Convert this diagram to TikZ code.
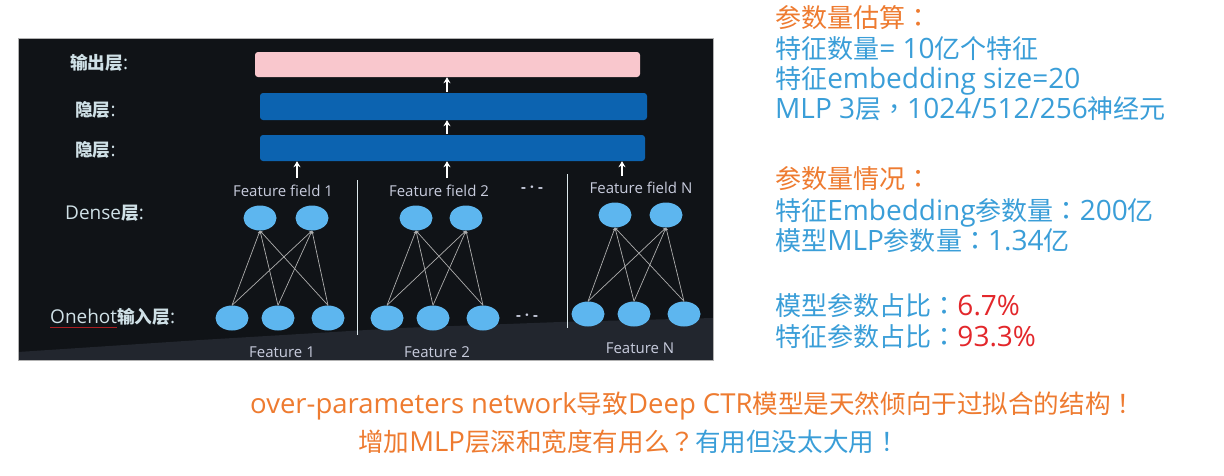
\documentclass[tikz,border=0pt]{standalone}
\usepackage{fontspec}
\setmainfont{Open Sans}
\newfontfamily\zh[Scale=0.93]{Noto Sans CJK SC}
\newfontfamily\zp[Scale=0.93]{Noto Sans CJK TC}
\usetikzlibrary{shapes.geometric,arrows.meta}
\definecolor{panel}{HTML}{101317}
\definecolor{floorc}{HTML}{22262E}
\definecolor{pinkbar}{HTML}{F9C7CD}
\definecolor{bluebar}{HTML}{0C63B0}
\definecolor{dot}{HTML}{5DB6EF}
\definecolor{lbl}{HTML}{CFE0E6}
\definecolor{fflc}{HTML}{C8CCDD}
\definecolor{orng}{HTML}{EE7B30}
\definecolor{txtblue}{HTML}{3A9ED8}
\definecolor{myred}{HTML}{E3272B}
\definecolor{edgec}{HTML}{AEAEAE}
\tikzset{
  bar/.style={rectangle, rounded corners=3pt, inner sep=0pt},
  layerlbl/.style={text=lbl, font=\fontsize{19}{22}\selectfont, anchor=west, inner sep=0pt, text height=17.4pt, text depth=4pt},
  fflbl/.style={text=fflc, font=\fontsize{15}{17}\selectfont, inner sep=0pt},
  neuron/.style={ellipse, fill=dot, minimum width=33pt, minimum height=25pt, inner sep=0pt},
  uparr/.style={draw=white, line width=1.7pt, -{Stealth[length=6pt,width=7pt]}},
  edge/.style={draw=edgec, line width=0.7pt, -{Stealth[length=3pt,width=3pt]}},
  sep/.style={draw=lbl!70, line width=0.6pt},
  rtxt/.style={anchor=west, inner sep=0pt, text height=26pt, text depth=6pt, font=\fontsize{28}{30}\selectfont},
  btxt/.style={anchor=west, inner sep=0pt, text height=25.4pt, text depth=6pt, font=\fontsize{27.5}{30}\selectfont},
}
\begin{document}
\begin{tikzpicture}[x=1pt,y=-1pt]
\useasboundingbox[fill=white] (0,0) rectangle (1224,475);
% panel
\fill[panel] (18,38) rectangle (713,360);
\fill[floorc] (18,360) -- (18,352) -- (200,340) -- (400,328) -- (560,322) -- (713,318) -- (713,360) -- cycle;
\draw[gray!60, line width=0.6pt] (18,38) rectangle (713,360);
% bars
\node[bar, fill=pinkbar, minimum width=385pt, minimum height=25pt] (out) at (447.5,64.5) {};
\node[bar, fill=bluebar, minimum width=387pt, minimum height=27pt] (hid1) at (453.5,106.5) {};
\node[bar, fill=bluebar, minimum width=385pt, minimum height=26pt] (hid2) at (452.5,148) {};
% layer labels
\node[layerlbl] (lout) at (70,63) {{\zh\bfseries 输出层}:};
\node[layerlbl] (lh1) at (75,110) {{\zh\bfseries 隐层}:};
\node[layerlbl] (lh2) at (75,150) {{\zh\bfseries 隐层}:};
\node[layerlbl] (ldense) at (65,213) {Dense{\zh\bfseries 层}:};
\node[layerlbl] (lone) at (50,317) {Onehot{\zh\bfseries 输入层}:};
\draw[myred!75!black, line width=0.9pt] (50,327) -- (117,327);
% arrows between bars
\coordinate (m1) at (447,92);
\coordinate (m2) at (447,134);
\draw[uparr] (m1) -- (m1 |- out.south);
\draw[uparr] (m2) -- (m2 |- hid1.south);
% feature field labels
\node[fflbl] (ff1) at (283,191) {Feature field 1};
\node[fflbl] (ff2) at (439,191) {Feature field 2};
\node[fflbl] (ffN) at (641,188) {Feature field N};
\node[fflbl, font=\fontsize{15}{17}\selectfont\bfseries] (dots1) at (532,189) {- · -};
\node[fflbl, font=\fontsize{15}{17}\selectfont\bfseries] (dots2) at (527,317) {- · -};
\coordinate (a1) at (297,178);
\coordinate (a2) at (447,178);
\coordinate (a3) at (622,176);
\draw[uparr] (a1) -- (a1 |- hid2.south);
\draw[uparr] (a2) -- (a2 |- hid2.south);
\draw[uparr] (a3) -- (a3 |- hid2.south);
% separators
\coordinate (s1t) at (357,180); \coordinate (s1b) at (357,335);
\coordinate (s2t) at (567,174); \coordinate (s2b) at (567,328);
\draw[sep] (s1t) -- (s1b);
\draw[sep] (s2t) -- (s2b);
% neurons
\node[neuron] (d11) at (260,218) {};
\node[neuron] (d12) at (312,218) {};
\node[neuron] (d21) at (416,218) {};
\node[neuron] (d22) at (466,218) {};
\node[neuron] (dN1) at (615,215) {};
\node[neuron] (dN2) at (666,215) {};
\node[neuron] (o11) at (232,318) {};
\node[neuron] (o12) at (278,318) {};
\node[neuron] (o13) at (328,318) {};
\node[neuron] (o21) at (387,318) {};
\node[neuron] (o22) at (433,318) {};
\node[neuron] (o23) at (483,318) {};
\node[neuron] (oN1) at (588,314) {};
\node[neuron] (oN2) at (634,314) {};
\node[neuron] (oN3) at (684,314) {};
\foreach \g in {1,2,N}{
  \foreach \i in {1,2,3}{
    \foreach \j in {1,2}{
      \draw[edge] (o\g\i.north) -- (d\g\j.south);
    }
  }
}
% feature labels
\node[fflbl] (f1) at (282,352) {Feature 1};
\node[fflbl] (f2) at (437,352) {Feature 2};
\node[fflbl] (fN) at (640,348) {Feature N};
% right text
\node[rtxt, text=orng] (t1) at (775,17) {{\zh 参数量估算}{\zp ：}};
\node[rtxt, text=txtblue] (t2) at (775,48) {{\zh 特征数量}= 10{\zh 亿个特征}};
\node[rtxt, text=txtblue] (t3) at (775,78) {{\zh 特征}embedding size=20};
\node[rtxt, text=txtblue] (t4) at (775,108) {MLP 3{\zh 层}{\zp ，}1024/512/256{\zh 神经元}};
\node[rtxt, text=orng] (t5) at (775,178) {{\zh 参数量情况}{\zp ：}};
\node[rtxt, text=txtblue] (t6) at (775,210) {{\zh 特征}Embedding{\zh 参数量}{\zp ：}200{\zh 亿}};
\node[rtxt, text=txtblue] (t7) at (775,240) {{\zh 模型}MLP{\zh 参数量}{\zp ：}1.34{\zh 亿}};
\node[rtxt, text=txtblue] (t8) at (775,305) {{\zh 模型参数占比}{\zp ：}\textcolor{myred}{6.7\%}};
\node[rtxt, text=txtblue] (t9) at (775,336) {{\zh 特征参数占比}{\zp ：}\textcolor{myred}{93.3\%}};
% bottom text
\node[btxt, text=orng] (b1) at (250,404) {over-parameters network{\zh 导致}Deep CTR{\zh 模型是天然倾向于过拟合的结构}{\zp ！}};
\node[btxt, text=orng] (b2) at (358,442) {{\zh 增加}MLP{\zh 层深和宽度有用么}{\zp ？}\textcolor{txtblue}{{\zh 有用但没太大用}{\zp ！}}};
\end{tikzpicture}
\end{document}
